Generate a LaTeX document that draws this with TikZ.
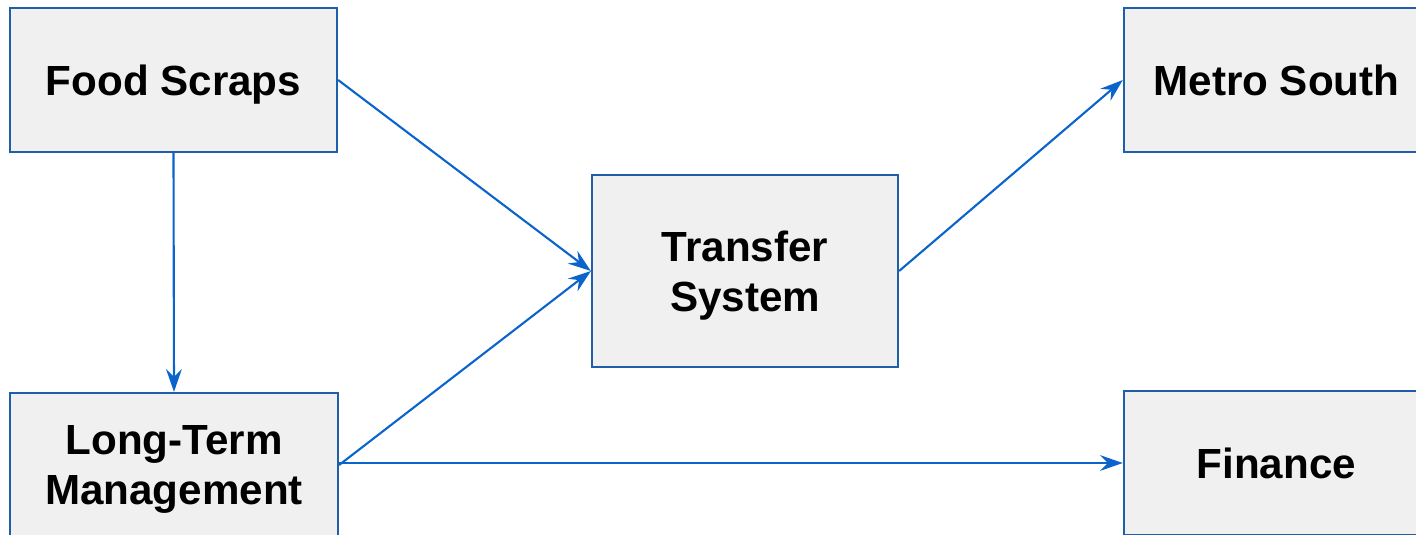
\documentclass[tikz,border=0pt]{standalone}
\usepackage{fontspec}
\setmainfont{Liberation Sans}
\usetikzlibrary{arrows.meta}
\definecolor{boxline}{HTML}{1F5FAA}
\definecolor{boxfill}{HTML}{F0F0F0}
\definecolor{flow}{HTML}{0A64CC}
\tikzset{
    block/.style={draw=boxline, fill=boxfill, line width=1.3pt, align=center,
        font=\fontsize{24}{28.5}\selectfont\bfseries, inner sep=0pt, text depth=0pt},
    flowline/.style={draw=flow, line width=1.2pt, -{Stealth[length=13pt,width=9pt,inset=4.5pt]}}
}

\begin{document}
\begin{tikzpicture}[x=0.02cm,y=-0.02cm]
    \useasboundingbox (0,0) rectangle (1416,534);
    % boxes
    \node[block, minimum width=6.54cm, minimum height=2.88cm] (scraps) at (173.5,80) {Food Scraps};
    \node[block, minimum width=6.56cm, minimum height=2.88cm] (longterm) at (174,465) {Long-Term\\Management};
    \node[block, minimum width=6.12cm, minimum height=3.84cm] (transfer) at (745,271) {Transfer\\System};
    \node[block, minimum width=6.10cm, minimum height=2.88cm] (metro) at (1430,80) [anchor=east] {Metro South};
    \node[block, minimum width=6.10cm, minimum height=2.88cm] (finance) at (1430,463) [anchor=east] {Finance};
    % flows
    \draw[flowline] (scraps.south) -- (longterm.north);
    \draw[flowline] (scraps.east) -- (transfer.west);
    \draw[flowline] (longterm.east) -- (transfer.west);
    \draw[flowline] (transfer.east) -- (metro.west);
    \draw[flowline] (longterm.east |- finance.west) -- (finance.west);
\end{tikzpicture}
\end{document}
